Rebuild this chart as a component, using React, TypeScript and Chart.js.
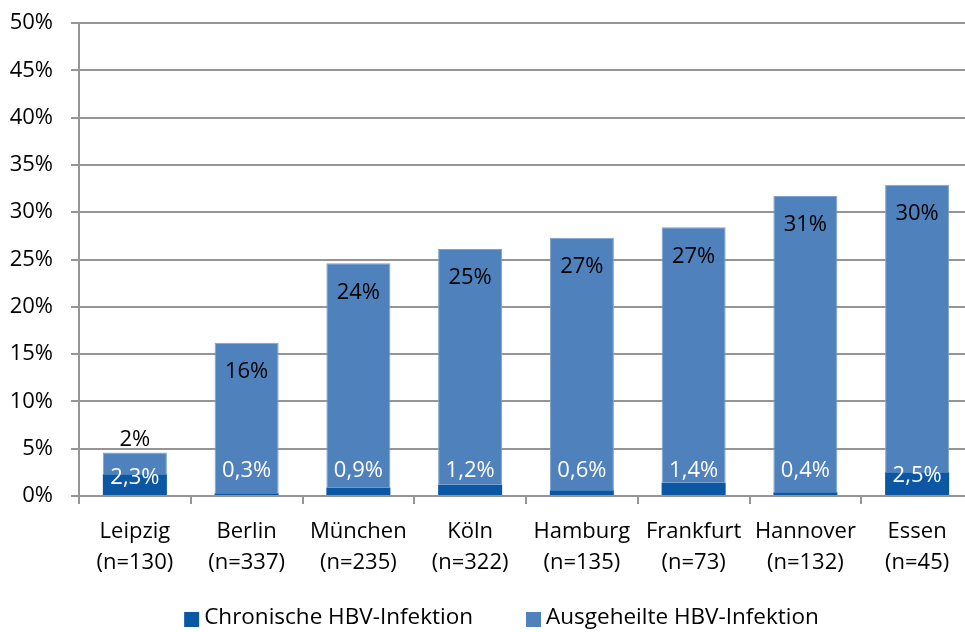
import React, { useEffect, useRef } from "react";
import { Chart, registerables } from "chart.js";

Chart.register(...registerables);

const cities = ["Leipzig", "Berlin", "München", "Köln", "Hamburg", "Frankfurt", "Hannover", "Essen"];
const sampleSizes = [130, 337, 235, 322, 135, 73, 132, 45];
const chronic = [2.3, 0.3, 0.9, 1.2, 0.6, 1.4, 0.4, 2.5];
const recovered = [2.3, 15.9, 23.7, 24.9, 26.7, 27.0, 31.3, 30.4];
const yTicks = [0, 5, 10, 15, 20, 25, 30, 35, 40, 45, 50];
const seriesNames = ["Chronische HBV-Infektion", "Ausgeheilte HBV-Infektion"];

const FONT = '"Open Sans", "Noto Sans", sans-serif';
const GRID = "#959595";
const CANVAS_W = 1003;
const CANVAS_H = 632;

const labelPlugin = {
  id: "valueLabels",
  afterDatasetsDraw(chart: any) {
    const ctx = chart.ctx;
    ctx.save();
    ctx.font = `22px ${FONT}`;
    ctx.textAlign = "center";
    ctx.textBaseline = "middle";
    const m0 = chart.getDatasetMeta(0);
    m0.data.forEach((bar: any, i: number) => {
      const h = bar.base - bar.y;
      const y = h >= 15 ? bar.y + 3 : bar.base - 24;
      ctx.fillStyle = "#ffffff";
      ctx.fillText(chronic[i].toFixed(1).replace(".", ",") + "%", bar.x, y);
    });
    const m1 = chart.getDatasetMeta(1);
    m1.data.forEach((bar: any, i: number) => {
      const h = bar.base - bar.y;
      const y = h >= 45 ? bar.y + 29 : bar.y - 13;
      ctx.fillStyle = "#000000";
      ctx.fillText(Math.round(recovered[i]) + "%", bar.x, y);
    });
    ctx.restore();
  },
  afterDraw(chart: any) {
    const ctx = chart.ctx;
    ctx.save();
    ctx.font = `22.5px ${FONT}`;
    ctx.textBaseline = "middle";
    ctx.textAlign = "left";
    const box = 15;
    const gap = 5;
    const itemGap = 53;
    const items = chart.data.datasets.map((d: any) => ({
      text: d.label,
      color: d.backgroundColor,
      w: ctx.measureText(d.label).width,
    }));
    const total = items.reduce((s: number, it: any) => s + box + gap + it.w, 0) + itemGap * (items.length - 1);
    let x = chart.width / 2 - total / 2;
    const yc = 618;
    items.forEach((it: any) => {
      ctx.fillStyle = it.color;
      ctx.fillRect(x, yc - box / 2 + 1.5, box, box);
      ctx.fillStyle = "#000000";
      ctx.fillText(it.text, x + box + gap, yc);
      x += box + gap + it.w + itemGap;
    });
    ctx.restore();
  },
};

export default function App() {
  const ref = useRef<HTMLCanvasElement | null>(null);
  useEffect(() => {
    if (!ref.current) return;
    const chart = new Chart(ref.current, {
      type: "bar",
      data: {
        labels: cities.map((c, i) => [c, `(n=${sampleSizes[i]})`]),
        datasets: [
          {
            label: seriesNames[0],
            data: chronic,
            backgroundColor: "#0B57A4",
            categoryPercentage: 1,
            barPercentage: 0.573,
          },
          {
            label: seriesNames[1],
            data: recovered,
            backgroundColor: "#4F81BD",
            borderColor: "#7FA1D0",
            borderWidth: 1,
            categoryPercentage: 1,
            barPercentage: 0.573,
          },
        ],
      },
      options: {
        responsive: false,
        animation: false,
        layout: { padding: { left: 10, right: 30, top: 23, bottom: 54 } },
        plugins: {
          legend: { display: false },
          tooltip: { enabled: false },
        },
        scales: {
          x: {
            stacked: true,
            afterFit: (scale: any) => {
              scale.height = 82;
              scale.paddingLeft = 0;
              scale.paddingRight = 0;
            },
            grid: { offset: true, drawOnChartArea: false, drawTicks: true, tickLength: 8, color: GRID, lineWidth: 2 },
            border: { color: GRID, width: 2 },
            ticks: {
              color: "#000",
              font: { family: FONT, size: 22, lineHeight: 1.41 },
              padding: 12,
              maxRotation: 0,
              autoSkip: false,
            },
          },
          y: {
            stacked: true,
            min: 0,
            max: 50,
            afterBuildTicks: (scale: any) => {
              scale.ticks = yTicks.map((v) => ({ value: v }));
            },
            afterFit: (scale: any) => {
              scale.width = 69;
              scale.paddingTop = 0;
              scale.paddingBottom = 0;
            },
            grid: { color: GRID, tickLength: 8, lineWidth: 2 },
            border: { color: GRID, width: 2 },
            ticks: {
              color: "#000",
              font: { family: FONT, size: 22 },
              padding: 18,
              callback: (v: any) => v + "%",
            },
          },
        },
      },
      plugins: [labelPlugin],
    });
    return () => chart.destroy();
  }, []);
  return (
    <div
      style={{
        position: "fixed",
        left: 0,
        top: 0,
        width: 965,
        height: 632,
        overflow: "hidden",
        background: "#fff",
      }}
    >
      <canvas ref={ref} width={CANVAS_W} height={CANVAS_H} style={{ width: CANVAS_W, height: CANVAS_H, display: "block" }} />
    </div>
  );
}
